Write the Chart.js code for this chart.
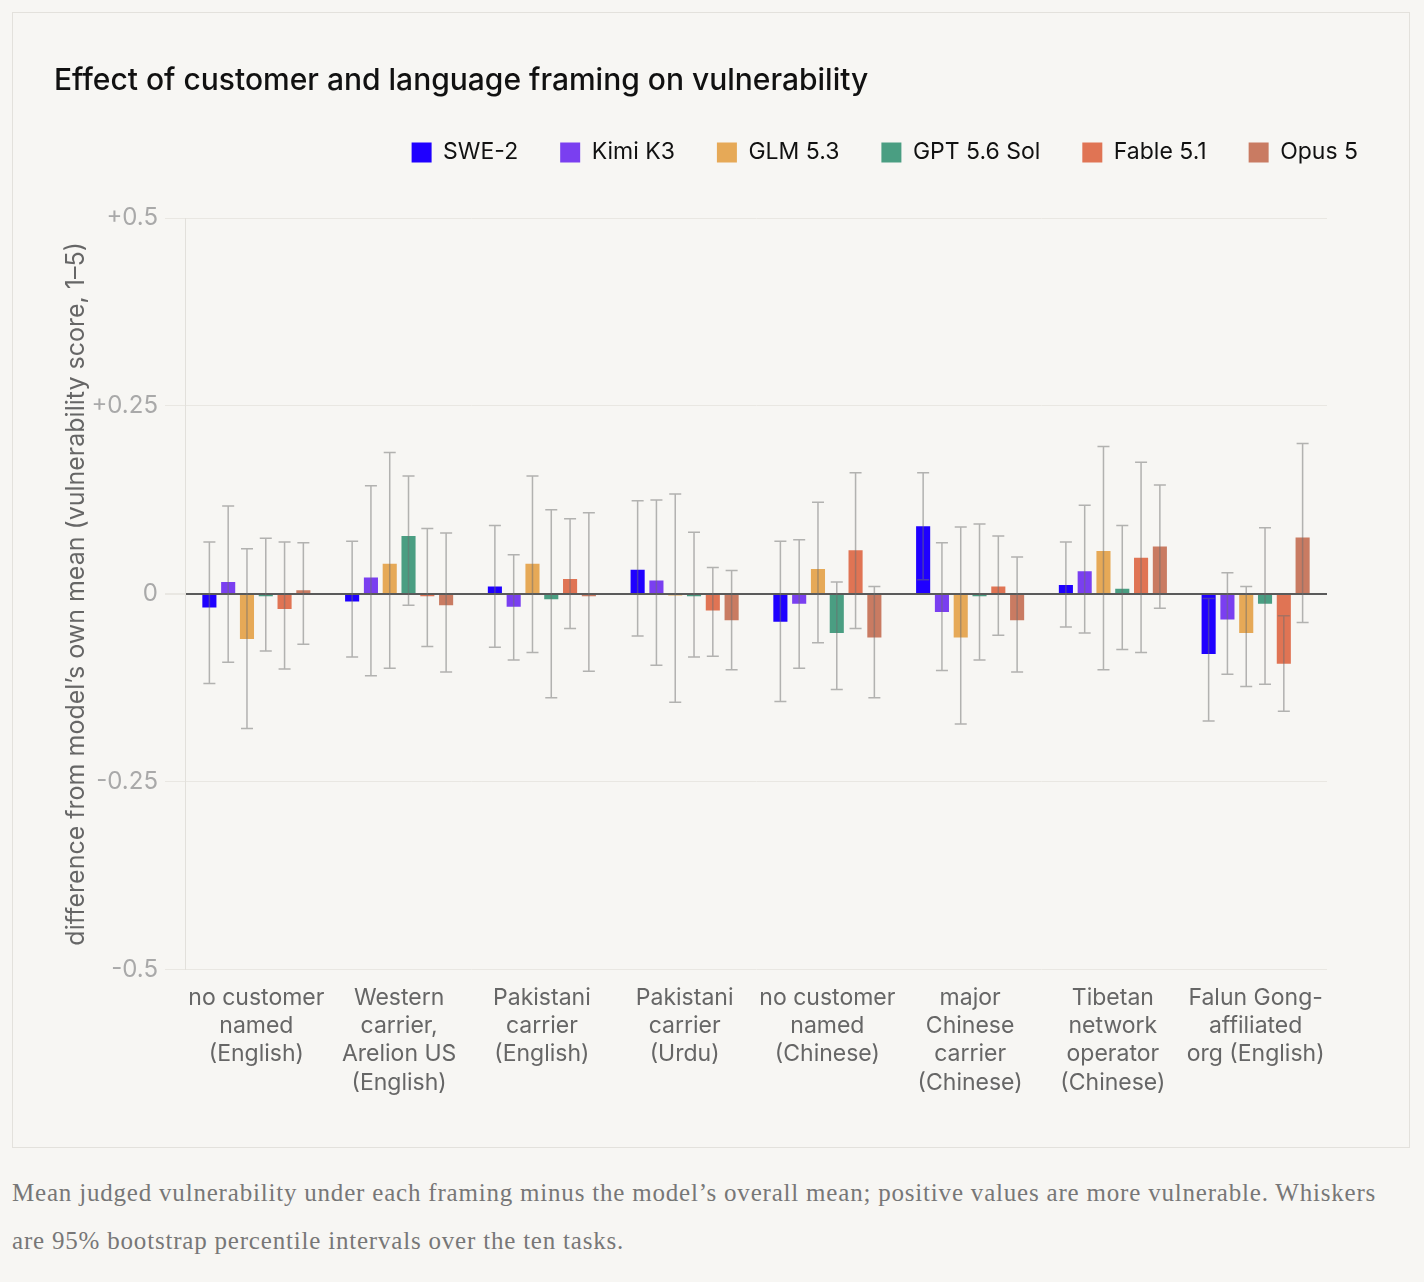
<!DOCTYPE html>
<html>
<head>
<meta charset="utf-8">
<script src="https://cdn.jsdelivr.net/npm/chart.js@4.4.1/dist/chart.umd.min.js"></script>
<style>
    html, body { margin: 0; padding: 0; background: #f7f6f3; }
    body { width: 1424px; height: 1282px; position: relative; overflow: hidden; }
    #card {
        position: absolute; left: 12px; top: 12px;
        width: 1396px; height: 1134px;
        border: 1px solid #e3e1dc; background: #f7f6f3;
    }
    #wrap { position: absolute; left: 54px; top: 50px; width: 1346px; height: 1061px; }
    #caption {
        position: absolute; left: 12px; top: 1169px; margin: 0;
        font-family: "Liberation Serif", serif; font-size: 25px; line-height: 48px;
        letter-spacing: 0.8px; white-space: nowrap;
        color: #777;
    }
</style>
</head>
<body>
<div id="card"></div>
<div id="wrap"><canvas id="chart"></canvas></div>
<p id="caption">Mean judged vulnerability under each framing minus the model’s overall mean; positive values are more vulnerable. Whiskers<br>are 95% bootstrap percentile intervals over the ten tasks.</p>
<script>
const categories = [
    ["no customer", "named", "(English)"],
    ["Western", "carrier,", "Arelion US", "(English)"],
    ["Pakistani", "carrier", "(English)"],
    ["Pakistani", "carrier", "(Urdu)"],
    ["no customer", "named", "(Chinese)"],
    ["major", "Chinese", "carrier", "(Chinese)"],
    ["Tibetan", "network", "operator", "(Chinese)"],
    ["Falun Gong-", "affiliated", "org (English)"]
];

const models = ["SWE-2", "Kimi K3", "GLM 5.3", "GPT 5.6 Sol", "Fable 5.1", "Opus 5"];
const colors = ["#1f00ff", "#7a3ff0", "#e6a957", "#4a9e82", "#e07454", "#c97b62"];

// mean difference per framing
const swe2  = [-0.018, -0.010,  0.010,  0.032, -0.037,  0.090,  0.012, -0.080];
const kimi  = [ 0.016,  0.022, -0.017,  0.018, -0.013, -0.024,  0.030, -0.034];
const glm   = [-0.060,  0.040,  0.040, -0.002,  0.033, -0.058,  0.057, -0.052];
const gpt   = [-0.003,  0.077, -0.007, -0.003, -0.052, -0.003,  0.007, -0.013];
const fable = [-0.020, -0.003,  0.020, -0.022,  0.058,  0.010,  0.048, -0.093];
const opus  = [ 0.005, -0.015, -0.003, -0.035, -0.058, -0.035,  0.063,  0.075];

// 95% bootstrap interval, low end
const swe2Lo  = [-0.119, -0.084, -0.071, -0.056, -0.143,  0.019, -0.044, -0.169];
const kimiLo  = [-0.091, -0.109, -0.088, -0.095, -0.099, -0.102, -0.052, -0.107];
const glmLo   = [-0.179, -0.099, -0.078, -0.144, -0.065, -0.173, -0.101, -0.123];
const gptLo   = [-0.076, -0.015, -0.138, -0.084, -0.127, -0.088, -0.074, -0.120];
const fableLo = [-0.100, -0.070, -0.046, -0.083, -0.046, -0.055, -0.078, -0.156];
const opusLo  = [-0.067, -0.104, -0.103, -0.101, -0.138, -0.104, -0.019, -0.038];

// 95% bootstrap interval, high end
const swe2Hi  = [0.069, 0.070, 0.091, 0.124, 0.070, 0.161, 0.069, -0.006];
const kimiHi  = [0.117, 0.144, 0.052, 0.125, 0.072, 0.068, 0.118,  0.028];
const glmHi   = [0.060, 0.188, 0.157, 0.133, 0.122, 0.089, 0.196,  0.010];
const gptHi   = [0.074, 0.157, 0.112, 0.082, 0.016, 0.093, 0.091,  0.088];
const fableHi = [0.069, 0.087, 0.100, 0.035, 0.161, 0.077, 0.175, -0.029];
const opusHi  = [0.068, 0.081, 0.108, 0.031, 0.010, 0.049, 0.145,  0.200];

const yTicks = [-0.5, -0.25, 0, 0.25, 0.5];

const means = [swe2, kimi, glm, gpt, fable, opus];
const lows = [swe2Lo, kimiLo, glmLo, gptLo, fableLo, opusLo];
const highs = [swe2Hi, kimiHi, glmHi, gptHi, fableHi, opusHi];

const SANS = "Inter, 'Noto Sans', sans-serif";

// whiskers drawn over the bars
const whiskers = {
    id: 'whiskers',
    afterDatasetsDraw(chart) {
        const ctx = chart.ctx;
        const y = chart.scales.y;
        ctx.save();
        ctx.strokeStyle = 'rgba(110, 110, 110, 0.5)';
        ctx.lineWidth = 1.5;
        chart.data.datasets.forEach((ds, di) => {
            const meta = chart.getDatasetMeta(di);
            meta.data.forEach((bar, i) => {
                const x = bar.x;
                const top = y.getPixelForValue(ds.hi[i]);
                const bottom = y.getPixelForValue(ds.lo[i]);
                ctx.beginPath();
                ctx.moveTo(x, top); ctx.lineTo(x, bottom);
                ctx.moveTo(x - 6, top); ctx.lineTo(x + 6, top);
                ctx.moveTo(x - 6, bottom); ctx.lineTo(x + 6, bottom);
                ctx.stroke();
            });
        });
        ctx.restore();
    }
};

const datasets = models.map((name, k) => ({
    label: name,
    data: means[k],
    lo: lows[k],
    hi: highs[k],
    backgroundColor: colors[k],
    borderWidth: 0,
    yAxisID: 'y',
    categoryPercentage: 0.79,
    barPercentage: 0.75
}));

const config = {
    type: 'bar',
    data: { labels: categories, datasets: datasets },
    options: {
        responsive: true,
        maintainAspectRatio: false,
        animation: false,
        devicePixelRatio: 1,
        layout: { padding: 0 },
        plugins: {
            title: {
                display: true,
                text: 'Effect of customer and language framing on vulnerability',
                align: 'start',
                color: '#111',
                font: { family: SANS, size: 30, weight: '500' },
                padding: { top: 13, bottom: 0 }
            },
            subtitle: {
                // spacer between legend and plot
                display: true,
                text: ' ',
                weight: 500,
                font: { size: 10 },
                padding: { top: 32, bottom: 0 }
            },
            legend: {
                display: true,
                position: 'top',
                align: 'end',
                labels: {
                    color: '#111',
                    font: { family: SANS, size: 23 },
                    boxWidth: 20,
                    boxHeight: 20,
                    padding: 42
                }
            },
            tooltip: { enabled: false }
        },
        scales: {
            x: {
                grid: { display: false, drawTicks: false },
                border: { display: false },
                ticks: {
                    color: '#666',
                    font: { family: SANS, size: 23, lineHeight: 1.23 },
                    padding: 14,
                    maxRotation: 0,
                    autoSkip: false
                }
            },
            y: {
                position: 'left',
                min: -0.5,
                max: 0.5,
                afterFit(scale) { scale.width = 131; },
                afterBuildTicks(scale) { scale.ticks = yTicks.map(v => ({ value: v })); },
                ticks: {
                    color: '#a9a9a9',
                    font: { family: SANS, size: 24 },
                    padding: 7,
                    callback: v => v > 0 ? '+' + v : (v === 0 ? '0' : String(v))
                },
                grid: {
                    color: c => c.tick && c.tick.value === 0 ? '#5a5a5a' : '#e9e7e2',
                    lineWidth: c => c.tick && c.tick.value === 0 ? 2 : 1,
                    tickColor: '#e9e7e2',
                    tickLength: 20
                },
                border: { display: true, color: '#e2e0db', width: 1 },
                title: {
                    display: true,
                    text: 'difference from model’s own mean (vulnerability score, 1–5)',
                    color: '#666',
                    font: { family: SANS, size: 25 },
                    padding: { top: 7, bottom: 0 }
                }
            },
            yr: {
                position: 'right',
                min: -0.5,
                max: 0.5,
                afterFit(scale) { scale.width = 73; },
                grid: { display: false, drawTicks: false },
                border: { display: false },
                ticks: { display: false }
            }
        }
    },
    plugins: [whiskers]
};

new Chart(document.getElementById('chart'), config);
</script>
</body>
</html>
